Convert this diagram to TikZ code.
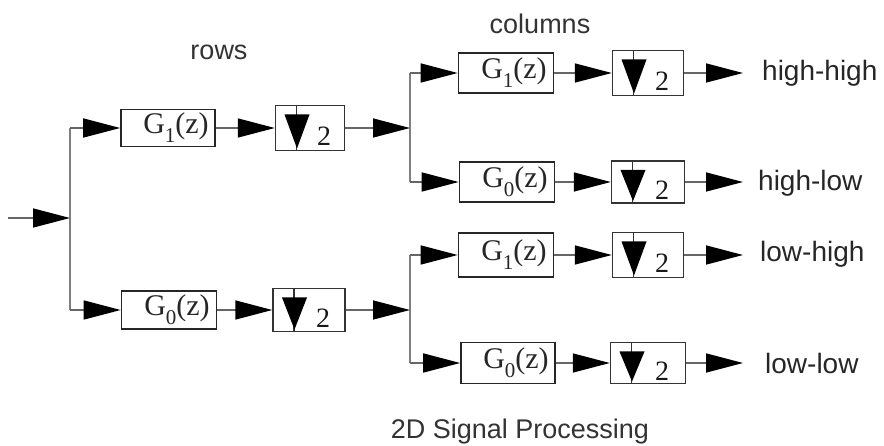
\documentclass[tikz,border=0pt]{standalone}
\usepackage{fontspec}
\setmainfont{Liberation Serif}
\setsansfont{Liberation Sans}
\usetikzlibrary{arrows.meta,calc}
\tikzset{
  conn/.style={draw=black!60, line width=1.5pt},
  arr/.style={conn, -{Triangle[length=37pt,width=19pt,black]}},
  junc/.style={draw=black!50, line width=2.5pt},
  filt/.style={draw=black!85, line width=1.6pt, minimum width=95pt, minimum height=40pt,
    inner sep=0pt, font=\fontsize{30}{32}\selectfont, text=black!85},
  dsbox/.style={draw=black!80, line width=1.4pt, minimum width=71pt, minimum height=44pt,
    inner sep=0pt,
    path picture={
      \draw[line width=1.4pt] ($(path picture bounding box.north west)+(21pt,0)$) --
        ($(path picture bounding box.south west)+(21pt,0)$);
      \fill ($(path picture bounding box.north west)+(9pt,-9pt)$) -- ++(25pt,0) --
        ($(path picture bounding box.south west)+(21.5pt,2pt)$) -- cycle;
      \node[font=\fontsize{28}{30}\selectfont, text=black!90, inner sep=0pt]
        at ($(path picture bounding box.center)+(14pt,-8pt)$) {2};
    }},
  lab/.style={font=\sffamily\fontsize{28}{30}\selectfont, text=black!85, inner sep=0pt, anchor=west},
  ttl/.style={font=\sffamily\fontsize{27}{30}\selectfont, text=black!80, inner sep=0pt},
}
\newcommand{\Gz}[1]{\hspace*{16pt}G\raisebox{-0.3em}{\fontsize{21}{21}\selectfont #1}(z)}
\begin{document}
\begin{tikzpicture}[x=1pt,y=-1pt]
\useasboundingbox (0,0) rectangle (884,446);
% coordinates
\coordinate (in) at (8,218);
\coordinate (j0) at (70,218);
\coordinate (j0t) at (70,128);
\coordinate (j0b) at (70,310);
\coordinate (j1) at (410,128);
\coordinate (j1t) at (410,73);
\coordinate (j1b) at (410,182);
\coordinate (j2) at (410,310);
\coordinate (j2t) at (410,255);
\coordinate (j2b) at (410,363);
% rows stage
\node[filt, minimum width=94pt, minimum height=37pt] (G1a) at (168,128) {\Gz{1}};
\node[dsbox, minimum width=69pt, minimum height=45pt] (D1a) at (310,128) {};
\node[filt, minimum height=38pt] (G0a) at (169,310) {\Gz{0}};
\node[dsbox, minimum width=72pt, minimum height=43pt] (D0a) at (309,310) {};
% columns stage
\node[filt] (G1b) at (506,73) {\Gz{1}};
\node[dsbox, minimum height=45pt] (D1b) at (648,73) {};
\node[filt] (G0b) at (507,182) {\Gz{0}};
\node[dsbox, minimum width=73pt, minimum height=42pt] (D0b) at (648,182) {};
\node[filt, minimum height=44pt] (G1c) at (506,255) {\Gz{1}};
\node[dsbox, minimum height=45pt] (D1c) at (648,255) {};
\node[filt, minimum width=94pt, minimum height=41pt] (G0c) at (508,363) {\Gz{0}};
\node[dsbox, minimum width=75pt, minimum height=41pt] (D0c) at (648,363) {};
% output labels
\node[lab] (hh) at (762,73) {high-high};
\node[lab] (hl) at (758,183) {high-low};
\node[lab] (lh) at (760,254) {low-high};
\node[lab] (ll) at (765,363) {low-low};
% titles
\node[ttl] (rows) at (219,52) {rows};
\node[ttl] (cols) at (540,24) {columns};
\node[ttl] (title) at (520,432) {2D Signal Processing};
% junction lines
\draw[junc] (j0t) -- (j0b);
\draw[junc] (j1t) -- (j1b);
\draw[junc] (j2t) -- (j2b);
% connectors
\draw[arr] (in) -- (j0);
\draw[arr] (j0t) -- (G1a.west);
\draw[arr] (j0b) -- (G0a.west);
\draw[arr] (G1a.east) -- (D1a.west);
\draw[arr] (G0a.east) -- (D0a.west);
\draw[arr] (D1a.east) -- (j1);
\draw[arr] (D0a.east) -- (j2);
\draw[arr] (j1t) -- (G1b.west);
\draw[arr] (j1b) -- (G0b.west);
\draw[arr] (j2t) -- (G1c.west);
\draw[arr] (j2b) -- (G0c.west);
\draw[arr] (G1b.east) -- (D1b.west);
\draw[arr] (G0b.east) -- (D0b.west);
\draw[arr] (G1c.east) -- (D1c.west);
\draw[arr] (G0c.east) -- (D0c.west);
\draw[arr] (D1b.east) -- ([xshift=-19pt]hh.west);
\draw[arr] (D0b.east) -- ([xshift=-15pt]hl.west|-D0b.east);
\draw[arr] (D1c.east) -- ([xshift=-17pt]lh.west|-D1c.east);
\draw[arr] (D0c.east) -- ([xshift=-22pt]ll.west|-D0c.east);
\end{tikzpicture}
\end{document}
